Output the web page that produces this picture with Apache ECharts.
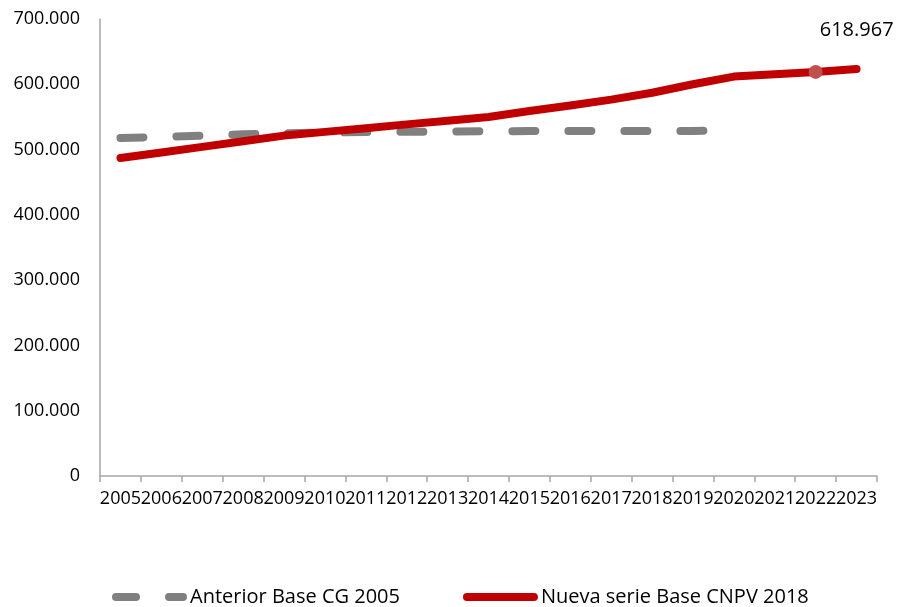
<!DOCTYPE html>
<html>
<head>
<meta charset="utf-8">
<script src="https://cdn.jsdelivr.net/npm/echarts@6/dist/echarts.min.js"></script>
<style>html,body{margin:0;padding:0;background:#fff}#c{width:897px;height:607px}</style>
</head>
<body>
<div id="c"></div>
<script>
const years = ['2005','2006','2007','2008','2009','2010','2011','2012','2013','2014','2015','2016','2017','2018','2019','2020','2021','2022','2023'];
const anteriorCG2005 = [517800,519300,521300,523300,525000,526000,526800,527300,527600,528000,528300,528600,528600,528600,528600,528800,null,null,null];
const nuevaCNPV2018 = [487000,495600,504100,512800,521400,527100,532800,538600,544300,549900,559100,567500,576500,587000,600000,611800,615500,618967,623500];
const highlightYear = '2022';
const seriesNames = ['Anterior Base CG 2005','Nueva serie Base CNPV 2018'];
const yTicks = {min:0, max:700000, interval:100000};

function fmt(v){ return String(Math.round(v)).replace(/\B(?=(\d{3})+(?!\d))/g,'.'); }

const chart = echarts.init(document.getElementById('c'), null, {renderer:'canvas'});
const FONT = 'Open Sans';
const redData = nuevaCNPV2018.map((v,i)=> years[i]===highlightYear ? {
  value:v, symbol:'circle', symbolSize:14,
  itemStyle:{color:'#C0504D'},
  label:{show:true, formatter:p=>fmt(p.value), position:'top', offset:[41,-20], fontSize:20, color:'#000', fontFamily:FONT}
} : {value:v, symbol:'none'});

const dashIcon = 'path://M4,0 L24,0 A4,4 0 0 1 24,8 L4,8 A4,4 0 0 1 4,0 Z M57,0 L71,0 A4,4 0 0 1 71,8 L57,8 A4,4 0 0 1 57,0 Z';
const solidIcon = 'path://M4,0 L71,0 A4,4 0 0 1 71,8 L4,8 A4,4 0 0 1 4,0 Z';

chart.setOption({
  animation:false,
  textStyle:{fontFamily:FONT},
  grid:{left:100, right:20, top:19, bottom:131, containLabel:false},
  legend:{
    top:587, left:112, padding:0, itemWidth:75, itemHeight:8, itemGap:63,
    textStyle:{fontSize:20, color:'#000', fontFamily:FONT, padding:[0,0,0,-2]},
    data:[
      {name:seriesNames[0], icon:dashIcon, itemStyle:{color:'#808080'}},
      {name:seriesNames[1], icon:solidIcon, itemStyle:{color:'#C00000'}}
    ]
  },
  xAxis:{
    type:'category', data:years, boundaryGap:true,
    axisLine:{lineStyle:{color:'#A6A6A6', width:1.5}},
    axisTick:{show:true, length:6, lineStyle:{color:'#A6A6A6', width:1.5}},
    axisLabel:{color:'#000', fontSize:18, margin:14, interval:0, fontFamily:FONT},
    splitLine:{show:false}
  },
  yAxis:{
    type:'value', min:yTicks.min, max:yTicks.max, interval:yTicks.interval,
    axisLine:{show:true, lineStyle:{color:'#A6A6A6', width:1.5}},
    axisTick:{show:false},
    axisLabel:{color:'#000', fontSize:18, margin:20, formatter:fmt, fontFamily:FONT},
    splitLine:{show:false}
  },
  series:[
    {
      name:seriesNames[0], type:'line', data:anteriorCG2005, symbol:'none', showSymbol:false,
      connectNulls:false,
      lineStyle:{color:'#808080', width:8, type:[23,33], cap:'round'},
      itemStyle:{color:'#808080'}, z:2
    },
    {
      name:seriesNames[1], type:'line', data:redData, symbol:'none', showSymbol:true,
      lineStyle:{color:'#C00000', width:8, cap:'round', join:'round'},
      itemStyle:{color:'#C00000'}, z:3
    }
  ]
});
</script>
</body>
</html>
